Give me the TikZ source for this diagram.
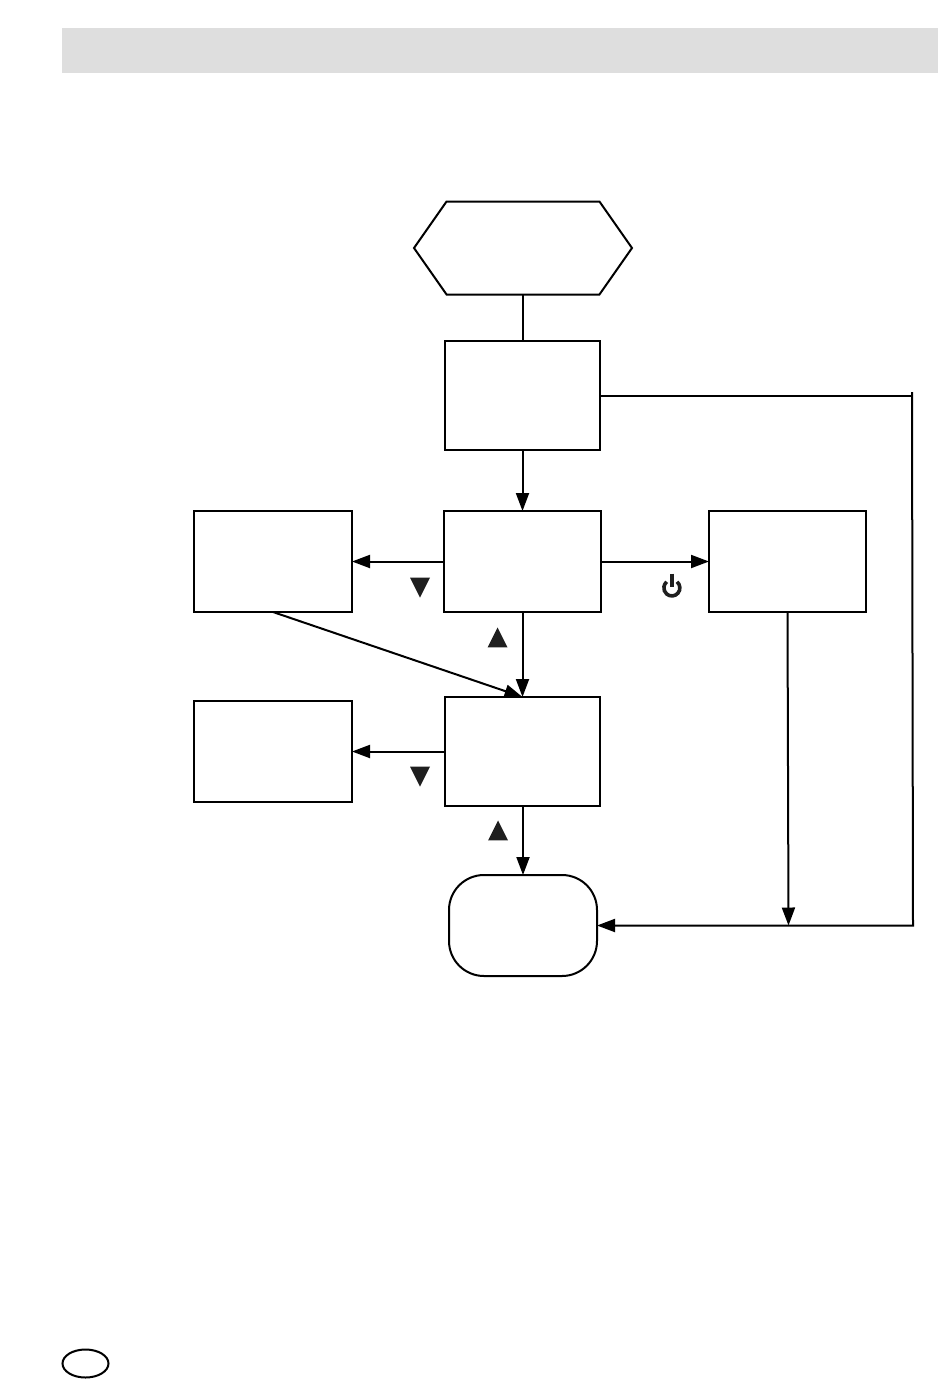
\documentclass[tikz,border=0pt]{standalone}
\usepackage{amssymb}
\usepackage{amsmath}
\usetikzlibrary{arrows.meta,shapes.geometric,shapes.symbols}
\tikzset{
  line/.style={line width=2pt,-{Triangle[length=18pt,width=13pt]}},
  plain/.style={line width=2pt},
  box/.style={draw,line width=2pt,minimum width=#1,outer sep=0pt,inner sep=0pt},
  upkey/.style={isosceles triangle,isosceles triangle stretches,shape border rotate=90,fill=black!88,minimum width=20pt,minimum height=20pt,inner sep=0pt,outer sep=0pt},
  downkey/.style={upkey,shape border rotate=-90}
}
\begin{document}
\begin{tikzpicture}[x=1pt,y=-1pt]
       \useasboundingbox (0,0) rectangle (950,1387);

       \node(Band)[fill=black!13,minimum width=876pt,minimum height=45pt,inner sep=0pt,outer sep=0pt] at (500,50.5) {};

       \node(Start)[draw,line width=2pt,signal,signal to=east and west,signal pointer angle=110,minimum width=218pt,minimum height=93pt,inner sep=0pt,outer sep=0pt] at (523,248) {};

       \node(Check)[box=155pt,minimum height=109pt] at (522.5,395.5) {};
       \node(Main)[box=157pt,minimum height=101pt] at (522.5,561.5) {};
       \node(LeftA)[box=158pt,minimum height=101pt] at (273,561.5) {};
       \node(RightA)[box=157pt,minimum height=101pt] at (787.5,561.5) {};
       \node(Next)[box=155pt,minimum height=109pt] at (522.5,751.5) {};
       \node(LeftB)[box=158pt,minimum height=101pt] at (273,751.5) {};
       \node(End)[box=148pt,minimum height=101pt,rounded corners=35pt] at (523,925.5) {};

       \draw[plain] (Start) -- (Start |- Check.north);
       \draw[line] (Check) -- (Main);
       \draw[line] (Main) -- (LeftA);
       \draw[line] (Main) -- (RightA);
       \draw[line] (Main) -- (Next);
       \draw[line] (Next) -- (LeftB);
       \draw[line] (End |- Next.south) -- (End);
       \draw[line] (LeftA.south) -- (Next.north);

       \coordinate(TurnA) at (912,395.5);
       \coordinate(TurnTop) at (912,392);
       \coordinate(TurnB) at (913,925.5);
       \coordinate(Join) at (788.5,925.5);

       \draw[plain] (Check.east |- TurnA) -- (TurnA);
       \draw[line] (TurnTop) -- (TurnB) -- (End.east);
       \draw[line] (RightA.south) -- (Join);

       \node(KeyA)[downkey] at (420,583.7) {};
       \node(KeyB)[upkey] at (497.5,641.3) {};
       \node(KeyC)[downkey] at (420,772.7) {};
       \node(KeyD)[upkey] at (498,834.3) {};

       \coordinate(Power) at (672,588);
       \draw[line width=3.6pt,black!88] (Power) ++(5,-6.2) arc (-50:230:8);
       \draw[line width=3.6pt,black!88] (Power) ++(0,-14.5) -- ++(0,13.5);

       \node(Mark)[draw,ellipse,line width=2pt,minimum width=46pt,minimum height=28pt,inner sep=0pt] at (85.5,1363.5) {};
\end{tikzpicture}
\end{document}
